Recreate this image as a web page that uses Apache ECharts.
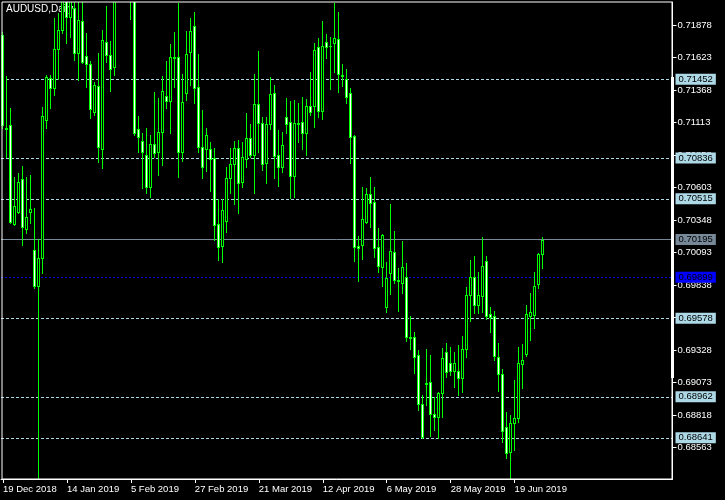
<!DOCTYPE html>
<html><head><meta charset="utf-8">
<script src="https://cdn.jsdelivr.net/npm/echarts@6/dist/echarts.min.js"></script>
<style>html,body{margin:0;padding:0;background:#000}#c{width:725px;height:500px}</style>
</head><body><div id="c"></div>
<script>
const xTickLabels = ['19 Dec 2018','14 Jan 2019','5 Feb 2019','27 Feb 2019','21 Mar 2019','12 Apr 2019','6 May 2019','28 May 2019','19 Jun 2019'];
const yTickValues = [0.71878,0.71623,0.71368,0.71113,0.70858,0.70603,0.70348,0.70093,0.69838,0.69583,0.69328,0.69073,0.68818,0.68563];
const levelLines = [0.71452,0.70836,0.70515,0.69578,0.68962,0.68641];
const bidPrice = 0.70195;
const alertPrice = 0.69899;

const opens = [0.71800,0.71070,0.71094,0.70317,0.70412,0.70670,0.70278,0.70412,0.70114,0.69831,
0.70051,0.71133,0.71462,0.71384,0.71690,0.71839,0.72098,0.71941,0.72011,0.71658,
0.71909,0.71635,0.71572,0.71196,0.71400,0.70906,0.71745,0.71643,0.71549,0.72100,
0.72300,0.72400,0.72200,0.72340,0.71062,0.70968,0.70859,0.70608,0.70945,0.70882,
0.71039,0.71321,0.71282,0.71627,0.71627,0.70882,0.71345,0.71666,0.71870,0.71392,
0.70921,0.70906,0.70906,0.70835,0.70317,0.70145,0.70341,0.70678,0.70788,0.70914,
0.70647,0.70827,0.70992,0.70859,0.71258,0.71110,0.70796,0.71102,0.71345,0.70859,
0.70764,0.71157,0.71117,0.70694,0.71102,0.71117,0.71031,0.71243,0.71243,0.71705,
0.71204,0.71745,0.71713,0.71737,0.71768,0.71486,0.71455,0.71345,0.71008,0.70145,
0.70153,0.70333,0.70553,0.70490,0.70137,0.69980,0.69667,0.69933,0.70098,0.69878,
0.69855,0.69902,0.69431,0.69431,0.69290,0.68906,0.69071,0.69078,0.68827,0.68804,
0.68992,0.69314,0.69227,0.69165,0.69165,0.69110,0.69337,0.69761,0.69902,0.69682,
0.69753,0.70027,0.69612,0.69596,0.69274,0.69141,0.68725,0.68529,0.68757,0.68796,
0.69220,0.69298,0.69596,0.69604,0.69847,0.70082];
const closes = [0.71094,0.71062,0.70333,0.70459,0.70647,0.70294,0.70372,0.70435,0.69831,0.70051,
0.71164,0.71470,0.71384,0.71690,0.71839,0.72113,0.71941,0.72074,0.71658,0.71917,
0.71588,0.71572,0.71219,0.71407,0.70921,0.71760,0.71643,0.71533,0.72090,0.72300,
0.72400,0.72200,0.72350,0.71031,0.71000,0.70882,0.70608,0.70945,0.70874,0.71039,
0.71360,0.71282,0.71627,0.71619,0.70882,0.71274,0.71651,0.71831,0.71384,0.70921,
0.70764,0.71015,0.70827,0.70310,0.70137,0.70427,0.70678,0.70788,0.70914,0.70639,
0.70843,0.70992,0.70859,0.71258,0.71110,0.70788,0.71102,0.71337,0.70851,0.70764,
0.70937,0.71102,0.70694,0.71110,0.71110,0.71031,0.71243,0.71196,0.71682,0.71204,
0.71713,0.71705,0.71710,0.71776,0.71494,0.71478,0.71313,0.71000,0.70137,0.70129,
0.70357,0.70553,0.70482,0.70129,0.69988,0.70231,0.69894,0.70106,0.69878,0.69871,
0.69980,0.69431,0.69423,0.69274,0.68906,0.68647,0.69063,0.68827,0.68804,0.68992,
0.69267,0.69157,0.69165,0.69227,0.69110,0.69337,0.69761,0.69902,0.69682,0.69761,
0.69988,0.69596,0.69588,0.69282,0.69141,0.68694,0.68522,0.68757,0.68796,0.69227,
0.69251,0.69612,0.69627,0.69831,0.70082,0.70195];
const lows = [0.71070,0.70843,0.70325,0.70310,0.70404,0.70153,0.70247,0.70325,0.69816,0.67500,
0.69933,0.71070,0.71227,0.71329,0.71455,0.71815,0.71737,0.71784,0.71604,0.71447,
0.71580,0.71392,0.71149,0.71172,0.70804,0.70757,0.71588,0.71360,0.71486,0.72080,
0.72150,0.72120,0.71925,0.71015,0.70882,0.70600,0.70561,0.70529,0.70843,0.70702,
0.70780,0.71227,0.71031,0.71392,0.70686,0.70812,0.71290,0.71407,0.71266,0.70882,
0.70678,0.70733,0.70576,0.70192,0.70035,0.70019,0.70255,0.70561,0.70474,0.70404,
0.70608,0.70764,0.70843,0.70561,0.70882,0.70741,0.70639,0.71062,0.70678,0.70615,
0.70725,0.71031,0.70521,0.70529,0.70961,0.70906,0.70859,0.71172,0.71078,0.71157,
0.71141,0.71619,0.71376,0.71509,0.71353,0.71400,0.71266,0.70796,0.70027,0.69871,
0.70043,0.70325,0.70294,0.70059,0.69941,0.69831,0.69627,0.69769,0.69855,0.69635,
0.69776,0.69400,0.69337,0.69149,0.68859,0.68639,0.68898,0.68655,0.68702,0.68639,
0.68804,0.69118,0.69133,0.69039,0.68976,0.69000,0.69274,0.69557,0.69620,0.69620,
0.69627,0.69572,0.69470,0.69251,0.69008,0.68608,0.68482,0.68271,0.68545,0.68765,
0.69031,0.69282,0.69408,0.69502,0.69816,0.69972];
const highs = [0.71823,0.71478,0.71227,0.70686,0.70717,0.70772,0.70686,0.70702,0.70443,0.70200,
0.71235,0.71486,0.71486,0.71933,0.71972,0.72231,0.72192,0.72152,0.72152,0.72113,
0.72113,0.71815,0.71596,0.71431,0.71658,0.71839,0.72027,0.71753,0.72200,0.72400,
0.72960,0.72500,0.72400,0.72400,0.71164,0.71031,0.71070,0.71015,0.71353,0.71306,
0.71478,0.71596,0.71729,0.71823,0.72051,0.71494,0.71831,0.71933,0.71980,0.71651,
0.71211,0.71070,0.70961,0.70914,0.70513,0.70513,0.70764,0.70914,0.70968,0.70976,
0.70961,0.71188,0.71102,0.71494,0.71674,0.71157,0.71157,0.71470,0.71407,0.71055,
0.71039,0.71306,0.71282,0.71290,0.71266,0.71313,0.71298,0.71509,0.71737,0.71776,
0.71909,0.71807,0.71784,0.72051,0.71980,0.71572,0.71533,0.71384,0.71015,0.70223,
0.70608,0.70600,0.70686,0.70608,0.70286,0.70239,0.70019,0.70474,0.70263,0.69972,
0.70184,0.70011,0.69596,0.69470,0.69329,0.68976,0.69337,0.69290,0.68961,0.69000,
0.69345,0.69384,0.69353,0.69314,0.69368,0.69439,0.69823,0.70035,0.70066,0.69941,
0.70215,0.70066,0.69667,0.69635,0.69384,0.69180,0.68843,0.68820,0.69094,0.69353,
0.69376,0.69682,0.69776,0.69941,0.70090,0.70215];

const SLOTS = 168;
const categories = Array.from({length: SLOTS}, (_, i) => String(i));
const candleData = opens.map((o, i) => [i, o, closes[i], lows[i], highs[i]]);

const FONT = 'Liberation Sans, Arial, sans-serif';
const GREEN = '#00ff00';
const boxLabel = (bg, fg) => ({
  show: true, position: 'end', distance: 3, formatter: p => Number(p.value).toFixed(5),
  backgroundColor: bg, color: fg, fontFamily: FONT, fontSize: 9.5, padding: [1, 3, 0, 3], lineHeight: 10
});

const markData = levelLines.map(v => ({
  yAxis: v,
  lineStyle: { color: '#add8e6', type: [3, 2], width: 1 },
  label: boxLabel('#add8e6', '#000')
}));
markData.push({ yAxis: bidPrice, lineStyle: { color: '#778899', type: 'solid', width: 1 }, label: boxLabel('#778899', '#000') });
markData.push({ yAxis: alertPrice, lineStyle: { color: '#0000e0', type: [2, 2], width: 1 }, label: boxLabel('#0000ff', '#000') });

function renderCandle(params, api) {
  const i = api.value(0);
  const o = api.value(1), c = api.value(2), l = api.value(3), h = api.value(4);
  const x = Math.floor(api.coord([i, o])[0]);
  const yH = Math.round(api.coord([i, h])[1]);
  const yL = Math.round(api.coord([i, l])[1]);
  const yT = Math.round(api.coord([i, Math.max(o, c)])[1]);
  const yB = Math.round(api.coord([i, Math.min(o, c)])[1]);
  const children = [
    { type: 'rect', shape: { x: x, y: yH, width: 1, height: Math.max(1, yL - yH + 1) }, style: { fill: GREEN } },
    { type: 'rect', shape: { x: x - 1, y: yT, width: 3, height: Math.max(1, yB - yT + 1) }, style: { fill: GREEN } }
  ];
  if (yB - yT >= 2) {
    children.push({ type: 'rect', shape: { x: x, y: yT + 1, width: 1, height: yB - yT - 1 },
      style: { fill: c > o ? '#000' : '#fff' } });
  }
  return { type: 'group', children: children };
}

const chart = echarts.init(document.getElementById('c'), null, { renderer: 'canvas' });
chart.setOption({
  backgroundColor: '#000',
  animation: false,
  title: {
    text: 'AUDUSD,Daily', left: 6, top: 4, padding: 0, z: 0,
    textStyle: { color: '#fff', fontSize: 10, fontWeight: 'normal', fontFamily: FONT }
  },
  grid: { left: 0.5, top: 2, width: 672, height: 477, show: false },
  xAxis: {
    type: 'category', data: categories, boundaryGap: true,
    axisLine: { show: true, lineStyle: { color: '#fff', width: 1 } },
    axisTick: { show: true, alignWithLabel: true, length: 4, lineStyle: { color: '#fff' },
      interval: (idx) => idx % 16 === 0 && idx / 16 < xTickLabels.length },
    axisLabel: {
      show: true, color: '#fff', fontFamily: FONT, fontSize: 9.5, align: 'left', margin: 5,
      interval: (idx) => idx % 16 === 0 && idx / 16 < xTickLabels.length,
      formatter: (val, idx) => (idx % 16 === 0 ? (xTickLabels[idx / 16] || '') : '')
    },
    splitLine: { show: false }
  },
  yAxis: {
    type: 'value', position: 'right', min: 0.683177, max: 0.720584, scale: true,
    axisLine: { show: true, lineStyle: { color: '#fff', width: 1 } },
    axisTick: { show: true, length: 4, lineStyle: { color: '#fff' }, customValues: yTickValues },
    axisLabel: { show: true, color: '#fff', fontFamily: FONT, fontSize: 9.5, margin: 5,
      customValues: yTickValues, formatter: v => v.toFixed(5) },
    splitLine: { show: false }
  },
  graphic: [
    { type: 'rect', z: 100, silent: true, shape: { x: 2, y: 2, width: 670, height: 477 },
      style: { fill: 'none', stroke: '#fff', lineWidth: 1 } },
    { type: 'rect', z: 100, silent: true, shape: { x: 671, y: 77, width: 3, height: 301 },
      style: { fill: '#fff' } }
  ],
  series: [{
    type: 'custom', data: candleData, renderItem: renderCandle, clip: true, z: 3,
    encode: { x: 0, y: [1, 2, 3, 4] },
    markLine: { silent: true, symbol: 'none', z: 2, precision: 5, data: markData, animation: false }
  }]
});
</script></body></html>
